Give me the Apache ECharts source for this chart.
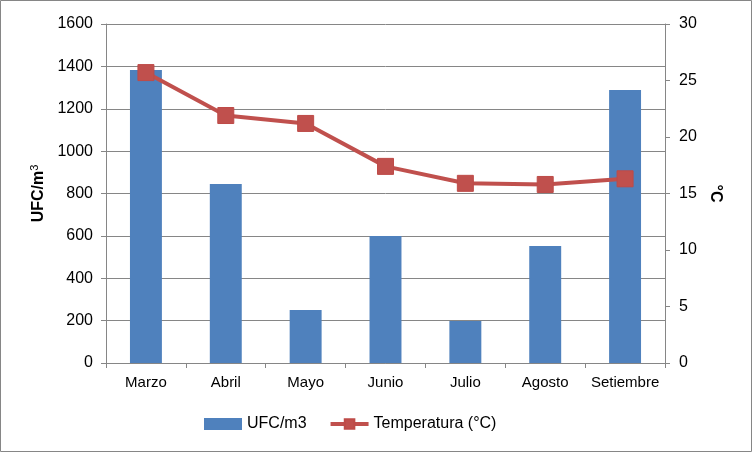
<!DOCTYPE html>
<html>
<head>
<meta charset="utf-8">
<script src="https://cdn.jsdelivr.net/npm/echarts@6/dist/echarts.min.js"></script>
<style>
html,body{margin:0;padding:0;background:#fff;}
#c{width:752px;height:452px;}
</style>
</head>
<body>
<div id="c"></div>
<script>
var categories = ['Marzo','Abril','Mayo','Junio','Julio','Agosto','Setiembre'];
var ufcValues = [1383, 845, 250, 599, 198, 552, 1288];
var tempValues = [25.7, 21.9, 21.2, 17.4, 15.9, 15.8, 16.3];
var leftTicks = {min:0, max:1600, interval:200};
var rightTicks = {min:0, max:30, interval:5};

var chart = echarts.init(document.getElementById('c'), null, {renderer:'canvas'});
var grey = '#868686';
var font = 'Liberation Sans, Arial, sans-serif';
chart.setOption({
  animation:false,
  textStyle:{fontFamily:font},
  graphic:[{type:'rect',shape:{x:0.5,y:0.5,width:751,height:451},style:{fill:'none',stroke:grey,lineWidth:1},silent:true}],
  grid:{left:106,right:87,top:24,bottom:89},
  legend:{
    left:199, top:411, itemGap:22, itemWidth:38, itemHeight:12,
    textStyle:{fontSize:16,color:'#000',fontFamily:font},
    data:[{name:'UFC/m3',icon:'rect'},{name:'Temperatura (°C)',lineStyle:{width:4}}]
  },
  xAxis:{
    type:'category', data:categories, boundaryGap:true,
    axisLine:{lineStyle:{color:grey,width:1}},
    axisTick:{show:true,length:5,lineStyle:{color:grey}},
    axisLabel:{color:'#000',fontSize:15,margin:12,fontFamily:font,interval:0}
  },
  yAxis:[{
    type:'value', min:leftTicks.min, max:leftTicks.max, interval:leftTicks.interval,
    name:'{a|UFC/m}{s|3}', nameLocation:'middle', nameGap:53, nameRotate:90,
    nameTextStyle:{rich:{a:{fontSize:16,fontWeight:'bold',color:'#000',fontFamily:font},s:{fontSize:11,color:'#000',verticalAlign:'top',padding:[0,0,8,0],fontFamily:font}}},
    axisLine:{show:true,lineStyle:{color:grey}},
    axisTick:{show:true,length:5,lineStyle:{color:grey}},
    splitLine:{show:true,lineStyle:{color:grey,width:1}},
    axisLabel:{color:'#000',fontSize:16,margin:13,fontFamily:font,formatter:function(v){return String(v);}}
  },{
    type:'value', min:rightTicks.min, max:rightTicks.max, interval:rightTicks.interval, position:'right',
    name:'°C', nameLocation:'middle', nameGap:40, nameRotate:-90,
    nameTextStyle:{fontSize:16,fontWeight:'bold',color:'#000',fontFamily:font},
    axisLine:{show:true,lineStyle:{color:grey}},
    axisTick:{show:true,length:5,lineStyle:{color:grey}},
    splitLine:{show:false},
    axisLabel:{color:'#000',fontSize:16,margin:14,fontFamily:font}
  }],
  series:[{
    name:'UFC/m3', type:'bar', data:ufcValues, barWidth:'40%',
    itemStyle:{color:'#4F81BD'}
  },{
    name:'Temperatura (°C)', type:'line', yAxisIndex:1, data:tempValues,
    symbol:'rect', symbolSize:16,
    lineStyle:{color:'#C0504D',width:4},
    itemStyle:{color:'#C0504D',borderColor:'#BE4B48',borderWidth:1}
  }]
});
</script>
</body>
</html>
